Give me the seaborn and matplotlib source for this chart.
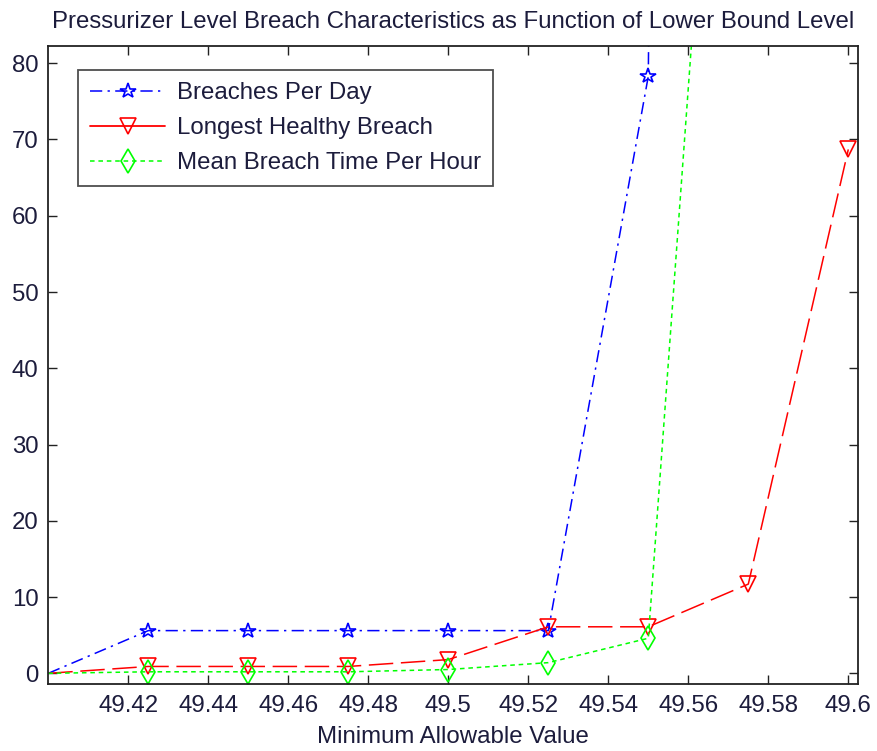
import numpy as np
import pandas as pd
import matplotlib
matplotlib.use("Agg")
import matplotlib.pyplot as plt
from matplotlib.lines import Line2D
import seaborn as sns

# ---- data ----
min_allowable = [49.400, 49.425, 49.450, 49.475, 49.500, 49.525, 49.550, 49.575, 49.600]
breaches_per_day = [0.0, 5.6, 5.6, 5.6, 5.6, 5.6, 78.3, 1500.0, 3000.0]
longest_healthy_breach = [0.0, 0.9, 0.9, 0.9, 1.8, 6.1, 6.1, 11.7, 68.7]
mean_breach_time_per_hour = [0.0, 0.2, 0.2, 0.2, 0.5, 1.4, 4.6, 185.0, 600.0]
series_labels = ["Breaches Per Day", "Longest Healthy Breach", "Mean Breach Time Per Hour"]
x_ticks = [49.42, 49.44, 49.46, 49.48, 49.5, 49.52, 49.54, 49.56, 49.58, 49.6]
x_tick_labels = ["49.42", "49.44", "49.46", "49.48", "49.5", "49.52", "49.54", "49.56", "49.58", "49.6"]
y_ticks = [0, 10, 20, 30, 40, 50, 60, 70, 80]

df = pd.DataFrame({
    "x": min_allowable,
    "bpd": breaches_per_day,
    "lhb": longest_healthy_breach,
    "mbt": mean_breach_time_per_hour,
})

sns.set_theme(style="white")
plt.rcParams["font.family"] = ["Liberation Sans", "DejaVu Sans"]
txt = "#1c1c3c"
FS = 17.3

fig = plt.figure(figsize=(8.77, 7.51), dpi=100)
W, H = 877, 751
ax_l, ax_r, ax_t, ax_b = 48.3, 858.3, 45.7, 684.3
ax = fig.add_axes([ax_l / W, 1 - ax_b / H, (ax_r - ax_l) / W, (ax_b - ax_t) / H])

styles = [
    ("bpd", "#0000ff", "*", 11.5, (8, 3.5, 1.5, 3.5)),
    ("lhb", "#ff0000", "v", 12, (16, 5)),
    ("mbt", "#00ff00", "d", 12, (3, 2.5)),
]
for (col, color, mk, ms, dash), lab in zip(styles, series_labels):
    sns.lineplot(data=df, x="x", y=col, ax=ax, color=color, marker=mk,
                 markersize=ms, markerfacecolor="none", markeredgecolor=color,
                 markeredgewidth=1.2, linewidth=1.1, markevery=list(range(1, len(df))),
                 legend=False)
    ax.lines[-1].set_dashes(dash)

ax.set_xlim(49.400, 49.6025)
ax.set_ylim(-1.44, 82.3)
ax.set_xticks(x_ticks)
ax.set_xticklabels(x_tick_labels)
ax.set_yticks(y_ticks)
ax.tick_params(axis="both", direction="in", length=6.5, width=1.0,
               labelsize=FS, colors="#222222", labelcolor=txt,
               top=True, right=True, bottom=True, left=True)
ax.tick_params(axis="x", pad=8)
ax.tick_params(axis="y", pad=7)
for s in ax.spines.values():
    s.set_visible(True)
    s.set_color("#222222")
    s.set_linewidth(1.3)

ax.set_xlabel("Minimum Allowable Value", fontsize=FS, color=txt, labelpad=6)
ax.set_ylabel("")
ax.set_title("Pressurizer Level Breach Characteristics as Function of Lower Bound Level",
             fontsize=FS, color=txt, pad=13)

handles = [
    Line2D([], [], color="#0000ff", marker="*", markersize=11.5, markerfacecolor="none",
           markeredgecolor="#0000ff", markeredgewidth=1.2, linewidth=1.1, dashes=(8, 3.5, 1.5, 3.5)),
    Line2D([], [], color="#ff0000", marker="v", markersize=12, markerfacecolor="none",
           markeredgecolor="#ff0000", markeredgewidth=1.2, linewidth=1.3, linestyle="-"),
    Line2D([], [], color="#00ff00", marker="d", markersize=12, markerfacecolor="none",
           markeredgecolor="#00ff00", markeredgewidth=1.2, linewidth=1.1, dashes=(3, 2.5)),
]
leg = ax.legend(handles, series_labels, loc="upper left",
                bbox_to_anchor=((78.3 - ax_l) / (ax_r - ax_l), (ax_b - 70) / (ax_b - ax_t)),
                borderaxespad=0, fontsize=FS, frameon=True, fancybox=False,
                edgecolor="#222222", handlelength=3.1, handletextpad=0.5,
                labelspacing=0.55, borderpad=0.5, numpoints=1, labelcolor=txt)
leg.get_frame().set_linewidth(1.3)

fig.savefig("out.png", dpi=100)
